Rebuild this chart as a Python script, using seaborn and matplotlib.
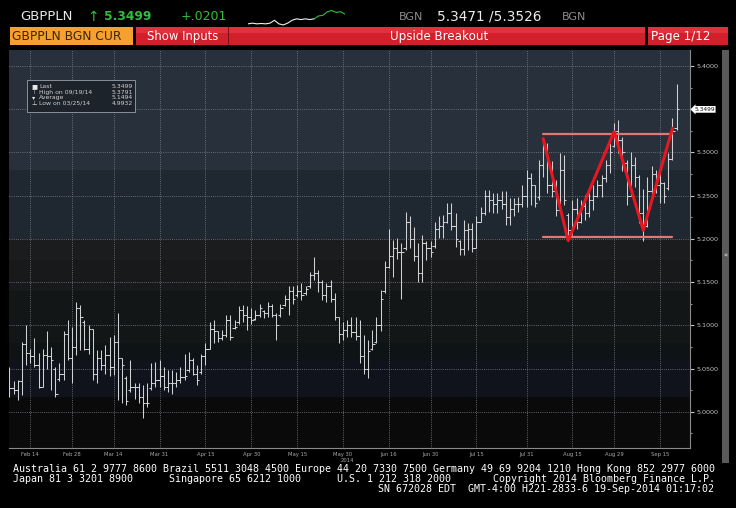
import numpy as np
import pandas as pd
import matplotlib
matplotlib.use("Agg")
import matplotlib.pyplot as plt
import matplotlib.transforms as mtransforms
from matplotlib.patches import Rectangle
import seaborn as sns

# ---------------- data ----------------
start_date = "2014-02-07"
end_date = "2014-09-19"

opens = [
    5.040, 5.027, 5.025, 5.035, 5.078, 5.068, 5.064, 5.054, 5.029, 5.066,
    5.064, 5.050, 5.038, 5.044, 5.090, 5.062, 5.075, 5.120, 5.104, 5.073,
    5.096, 5.044, 5.062, 5.054, 5.066, 5.052, 5.081, 5.062, 5.039, 5.025,
    5.029, 5.029, 5.017, 5.010, 5.027, 5.033, 5.037, 5.041, 5.029, 5.033,
    5.033, 5.037, 5.040, 5.048, 5.060, 5.044, 5.046, 5.064, 5.073, 5.096,
    5.093, 5.085, 5.089, 5.106, 5.097, 5.104, 5.118, 5.112, 5.110, 5.107,
    5.112, 5.116, 5.114, 5.122, 5.112, 5.112, 5.124, 5.130, 5.140, 5.135,
    5.140, 5.137, 5.145, 5.158, 5.160, 5.150, 5.135, 5.145, 5.130, 5.110,
    5.090, 5.095, 5.100, 5.092, 5.088, 5.065, 5.050, 5.073, 5.081, 5.100,
    5.140, 5.168, 5.180, 5.190, 5.185, 5.190, 5.220, 5.200, 5.180, 5.160,
    5.195, 5.190, 5.192, 5.212, 5.215, 5.220, 5.230, 5.215, 5.197, 5.188,
    5.210, 5.212, 5.190, 5.220, 5.230, 5.250, 5.245, 5.240, 5.245, 5.240,
    5.225, 5.235, 5.240, 5.240, 5.250, 5.270, 5.262, 5.248, 5.285, 5.305,
    5.262, 5.255, 5.233, 5.280, 5.228, 5.210, 5.235, 5.220, 5.238, 5.230,
    5.245, 5.250, 5.262, 5.270, 5.285, 5.308, 5.325, 5.314, 5.288, 5.250,
    5.285, 5.272, 5.230, 5.215, 5.255, 5.275, 5.262, 5.265, 5.259, 5.292, 5.328,
]
highs = [
    5.052, 5.035, 5.037, 5.081, 5.100, 5.073, 5.085, 5.068, 5.073, 5.093,
    5.075, 5.052, 5.056, 5.093, 5.106, 5.098, 5.127, 5.123, 5.106, 5.100,
    5.096, 5.071, 5.071, 5.077, 5.087, 5.089, 5.114, 5.062, 5.041, 5.060,
    5.033, 5.033, 5.031, 5.033, 5.056, 5.058, 5.060, 5.052, 5.048, 5.048,
    5.046, 5.052, 5.067, 5.069, 5.062, 5.054, 5.067, 5.079, 5.104, 5.106,
    5.093, 5.095, 5.112, 5.112, 5.106, 5.122, 5.123, 5.122, 5.120, 5.118,
    5.125, 5.118, 5.127, 5.125, 5.114, 5.125, 5.135, 5.145, 5.145, 5.147,
    5.149, 5.145, 5.162, 5.179, 5.164, 5.152, 5.149, 5.152, 5.137, 5.110,
    5.104, 5.106, 5.110, 5.110, 5.106, 5.089, 5.083, 5.095, 5.110, 5.141,
    5.174, 5.212, 5.199, 5.201, 5.195, 5.231, 5.226, 5.214, 5.195, 5.204,
    5.197, 5.197, 5.220, 5.226, 5.228, 5.241, 5.241, 5.230, 5.199, 5.222,
    5.218, 5.218, 5.226, 5.237, 5.257, 5.257, 5.253, 5.253, 5.255, 5.255,
    5.247, 5.247, 5.249, 5.262, 5.280, 5.276, 5.262, 5.291, 5.316, 5.311,
    5.290, 5.268, 5.299, 5.297, 5.230, 5.245, 5.247, 5.245, 5.251, 5.257,
    5.262, 5.268, 5.274, 5.291, 5.311, 5.334, 5.338, 5.318, 5.291, 5.300,
    5.295, 5.274, 5.258, 5.272, 5.284, 5.280, 5.280, 5.266, 5.299, 5.340, 5.3791,
]
lows = [
    5.017, 5.021, 5.014, 5.019, 5.054, 5.056, 5.052, 5.027, 5.029, 5.050,
    5.025, 5.017, 5.035, 5.037, 5.060, 5.033, 5.066, 5.071, 5.071, 5.067,
    5.037, 5.033, 5.048, 5.044, 5.041, 5.042, 5.013, 5.010, 5.008, 5.023,
    5.015, 5.010, 4.9932, 5.006, 5.025, 5.029, 5.029, 5.025, 5.023, 5.021,
    5.029, 5.033, 5.037, 5.046, 5.042, 5.031, 5.044, 5.054, 5.073, 5.079,
    5.081, 5.083, 5.087, 5.083, 5.096, 5.102, 5.104, 5.095, 5.102, 5.106,
    5.110, 5.108, 5.110, 5.110, 5.083, 5.110, 5.122, 5.112, 5.125, 5.133,
    5.129, 5.135, 5.143, 5.152, 5.139, 5.129, 5.127, 5.127, 5.106, 5.079,
    5.083, 5.087, 5.087, 5.083, 5.056, 5.044, 5.039, 5.071, 5.079, 5.093,
    5.137, 5.166, 5.156, 5.177, 5.131, 5.187, 5.189, 5.174, 5.150, 5.150,
    5.176, 5.179, 5.189, 5.201, 5.201, 5.218, 5.210, 5.191, 5.181, 5.181,
    5.187, 5.185, 5.189, 5.220, 5.228, 5.231, 5.230, 5.230, 5.235, 5.216,
    5.216, 5.226, 5.231, 5.237, 5.237, 5.239, 5.237, 5.245, 5.272, 5.253,
    5.249, 5.226, 5.233, 5.239, 5.197, 5.205, 5.212, 5.218, 5.222, 5.225,
    5.233, 5.249, 5.249, 5.266, 5.276, 5.306, 5.299, 5.278, 5.239, 5.250,
    5.260, 5.218, 5.197, 5.214, 5.245, 5.253, 5.241, 5.241, 5.257, 5.291, 5.326,
]
closes = [
    5.027, 5.025, 5.035, 5.078, 5.068, 5.064, 5.054, 5.029, 5.066, 5.064,
    5.060, 5.021, 5.044, 5.090, 5.062, 5.075, 5.120, 5.110, 5.073, 5.096,
    5.044, 5.062, 5.054, 5.066, 5.052, 5.081, 5.062, 5.054, 5.012, 5.029,
    5.029, 5.017, 5.010, 5.010, 5.033, 5.037, 5.041, 5.029, 5.033, 5.033,
    5.037, 5.040, 5.041, 5.060, 5.044, 5.037, 5.064, 5.073, 5.096, 5.093,
    5.085, 5.089, 5.106, 5.087, 5.098, 5.118, 5.112, 5.110, 5.106, 5.112,
    5.120, 5.114, 5.122, 5.112, 5.100, 5.120, 5.130, 5.140, 5.130, 5.140,
    5.135, 5.142, 5.158, 5.160, 5.150, 5.135, 5.145, 5.130, 5.110, 5.090,
    5.095, 5.100, 5.092, 5.088, 5.065, 5.050, 5.070, 5.078, 5.100, 5.130,
    5.168, 5.180, 5.190, 5.185, 5.185, 5.220, 5.200, 5.180, 5.160, 5.195,
    5.190, 5.185, 5.212, 5.215, 5.220, 5.230, 5.215, 5.200, 5.188, 5.210,
    5.212, 5.190, 5.220, 5.230, 5.250, 5.245, 5.240, 5.245, 5.240, 5.225,
    5.235, 5.240, 5.240, 5.250, 5.270, 5.262, 5.241, 5.285, 5.305, 5.262,
    5.255, 5.233, 5.280, 5.245, 5.210, 5.235, 5.220, 5.238, 5.230, 5.245,
    5.250, 5.262, 5.270, 5.285, 5.300, 5.325, 5.314, 5.300, 5.250, 5.285,
    5.272, 5.230, 5.215, 5.255, 5.275, 5.262, 5.265, 5.250, 5.292, 5.325, 5.3499,
]

pattern_dates = ["2014-08-06", "2014-08-14", "2014-08-29", "2014-09-09", "2014-09-18"]
pattern_values = [5.316, 5.198, 5.324, 5.210, 5.328]
level_dates = ["2014-08-06", "2014-09-18"]
resistance_level = 5.321
support_level = 5.202

tick_dates = ["2014-02-14", "2014-02-28", "2014-03-14", "2014-03-31", "2014-04-15",
              "2014-04-30", "2014-05-15", "2014-05-30", "2014-06-16", "2014-06-30",
              "2014-07-15", "2014-07-31", "2014-08-15", "2014-08-29", "2014-09-15"]
tick_labels = ["Feb 14", "Feb 28", "Mar 14", "Mar 31", "Apr 15", "Apr 30", "May 15",
               "May 30", "Jun 16", "Jun 30", "Jul 15", "Jul 31", "Aug 15", "Aug 29", "Sep 15"]
y_ticks = [5.00, 5.05, 5.10, 5.15, 5.20, 5.25, 5.30, 5.35, 5.40]
y_tick_labels = ["5.0000", "5.0500", "5.1000", "5.1500", "5.2000", "5.2500", "5.3000", "", "5.4000"]
y_minor_ticks = [4.975, 5.025, 5.075, 5.125, 5.175, 5.225, 5.275, 5.325, 5.375]

spark_values = [8, 10, 8, 9, 8, 10, 18, 8, 5, 10, 18, 22, 20, 22, 20, 22,
                30, 32, 42, 45, 40, 42, 35]
spark_split = 15

legend_labels = ["Last", "High on 09/19/14", "Average", "Low on 03/25/14"]
legend_values = ["5.3499", "5.3791", "5.1494", "4.9932"]

# ---------------- setup ----------------
sns.set_style("dark")
plt.rcParams['font.family'] = ['DejaVu Sans']

W, H = 736, 508
fig = plt.figure(figsize=(W / 100, H / 100), dpi=100, facecolor='black')


def fbox(x0, y0, x1, y1):
    return [x0 / W, 1 - y1 / H, (x1 - x0) / W, (y1 - y0) / H]


def ftext(x, y, s, **kw):
    kw.setdefault('va', 'center')
    return fig.text(x / W, 1 - y / H, s, **kw)


def frect(x0, y0, x1, y1, **kw):
    r = Rectangle((x0 / W, 1 - y1 / H), (x1 - x0) / W, (y1 - y0) / H,
                  transform=fig.transFigure, **kw)
    fig.add_artist(r)
    return r


dates = pd.bdate_range(start_date, end_date)
pos = np.arange(len(dates))
o = np.array(opens)
h = np.array(highs)
l = np.array(lows)
c = np.array(closes)

pattern_pos = dates.get_indexer(pd.to_datetime(pattern_dates))
level_pos = dates.get_indexer(pd.to_datetime(level_dates))
tick_pos = dates.get_indexer(pd.to_datetime(tick_dates))

# ---------------- main axes ----------------
ax = fig.add_axes(fbox(9, 50, 690, 448))
ax.set_facecolor('#0a0a0b')
ax.set_xlim(-0.1, 163.2)
ax.set_ylim(4.958, 5.4186)

bands = [(4.90, 5.017, '#0a0a0b'), (5.017, 5.060, '#10121c'), (5.060, 5.080, '#0e1416'),
         (5.080, 5.140, '#121617'), (5.140, 5.175, '#18191a'), (5.175, 5.200, '#1b1c1d'),
         (5.200, 5.280, '#1f2730'), (5.280, 5.500, '#28313b')]
for lo, hi, col in bands:
    ax.axhspan(lo, hi, color=col, lw=0, zorder=0)

grid_kw = dict(color='#7d838b', lw=0.6, ls=(0, (1, 1.6)), zorder=1)
for yv in y_ticks:
    ax.axhline(yv, **grid_kw)
for xv in tick_pos:
    ax.axvline(xv, **grid_kw)

# OHLC bars
bar_col = '#cfd1d4'
ax.vlines(pos, l, h, color=bar_col, lw=0.75, zorder=3)
ax.hlines(o, pos - 0.55, pos, color=bar_col, lw=0.75, zorder=3)
ax.hlines(c, pos, pos + 0.55, color=bar_col, lw=0.75, zorder=3)

# Breakout pattern
sns.lineplot(x=list(level_pos), y=[resistance_level, resistance_level], ax=ax,
             color='#e07878', lw=1.6, zorder=4, legend=False)
sns.lineplot(x=list(level_pos), y=[support_level, support_level], ax=ax,
             color='#e07878', lw=1.6, zorder=4, legend=False)
sns.lineplot(x=list(pattern_pos), y=pattern_values, ax=ax, sort=False,
             color='#e8161f', lw=2.2, zorder=5, legend=False)

# axes styling
for s in ['top', 'left']:
    ax.spines[s].set_visible(False)
ax.spines['bottom'].set_color('#8a8a8a')
ax.spines['right'].set_color('#8a8a8a')
ax.spines['bottom'].set_linewidth(0.8)
ax.spines['right'].set_linewidth(0.8)
ax.yaxis.tick_right()
ax.set_yticks(y_ticks)
ax.set_yticklabels(y_tick_labels)
ax.set_yticks(y_minor_ticks, minor=True)
ax.tick_params(axis='y', which='major', colors='#c4c4c4', labelsize=4.6,
               length=3, width=0.8, direction='out', pad=1.5, right=True, left=False)
ax.tick_params(axis='y', which='minor', colors='#9a9a9a', length=1.5, width=0.7,
               right=True, left=False)
ax.set_xticks(tick_pos)
ax.set_xticklabels(tick_labels)
ax.tick_params(axis='x', colors='#a8a8a8', labelsize=3.8, length=2, width=0.6,
               direction='out', pad=1.2)
ax.set_xlabel('')
ax.set_ylabel('')
ax.grid(False)

# last price flag
trans = mtransforms.blended_transform_factory(ax.transAxes, ax.transData)
ax.text(1.006, c[-1], "5.3499", transform=trans, fontsize=4.2, color='#111111',
        va='center', ha='left', clip_on=False, zorder=10,
        bbox=dict(boxstyle='larrow,pad=0.15', fc='white', ec='none'))

# year label under May 30
ftext(347, 460.5, "2014", fontsize=3.8, color='#a8a8a8', ha='center')

# ---------------- legend box ----------------
frect(27, 80, 135, 112, facecolor='#1d232b', edgecolor='#9aa1a9', lw=0.6, zorder=6)
legend_y = [86.8, 92.3, 97.8, 103.3]
icons = ["■", "⊤", "▾", "⊥"]
for yy, ic, lab, val in zip(legend_y, icons, legend_labels, legend_values):
    ftext(34, yy, ic, fontsize=4.6, color='#e8e8e8', ha='center', zorder=7)
    ftext(39, yy, lab, fontsize=4.4, color='#d0d0d0', ha='left', zorder=7)
    ftext(133, yy, val, fontsize=4.4, color='#d0d0d0', ha='right', zorder=7)

# ---------------- header ----------------
ftext(20, 17, "GBPPLN", fontsize=9.5, color='#e8e8e8', ha='left')
ftext(87, 17, "↑", fontsize=10, color='#2fbf3a', ha='left')
ftext(104, 17, "5.3499", fontsize=8.8, color='#2fbf3a', ha='left', fontweight='bold')
ftext(181, 17, "+.0201", fontsize=9, color='#2fbf3a', ha='left')
ftext(399, 17, "BGN", fontsize=8, color='#8c8c8c', ha='left')
ftext(437, 17, "5.3471 /5.3526", fontsize=9.8, color='#ececec', ha='left')
ftext(562, 17, "BGN", fontsize=8, color='#8c8c8c', ha='left')

# sparkline
sax = fig.add_axes(fbox(248, 9, 345, 26))
sax.set_axis_off()
sax.set_xlim(0, len(spark_values) - 1)
sax.set_ylim(2, 49.5)
sp_x = list(range(len(spark_values)))
sns.lineplot(x=sp_x[:spark_split + 1], y=spark_values[:spark_split + 1], ax=sax,
             color='#f0f0f0', lw=0.8, legend=False)
sns.lineplot(x=sp_x[spark_split:], y=spark_values[spark_split:], ax=sax,
             color='#2fbf3a', lw=0.8, legend=False)

# second row: tabs
frect(10, 27, 133, 45, facecolor='#f6a032', edgecolor='none')
ftext(12, 36.5, "GBPPLN BGN CUR", fontsize=8.8, color='#3a2606', ha='left')
frect(136, 27, 645, 45, facecolor='#d21f2b', edgecolor='none')
frect(136, 27, 645, 33, facecolor='#e0323c', edgecolor='none')
frect(228, 27, 229.2, 45, facecolor='#7e0f16', edgecolor='none')
ftext(147, 36.5, "Show Inputs", fontsize=8.4, color='white', ha='left')
ftext(439, 36.5, "Upside Breakout", fontsize=8.6, color='white', ha='center')
frect(648, 27, 728, 45, facecolor='#d21f2b', edgecolor='none')
frect(648, 27, 728, 33, facecolor='#e0323c', edgecolor='none')
ftext(651, 36.5, "Page 1/12", fontsize=8.6, color='white', ha='left')

# scrollbar on the right
frect(722, 50, 729, 463, facecolor='#5a5a5a', edgecolor='none')
ftext(725.5, 255, "«", fontsize=5, color='#f0f0f0', ha='center', rotation=0)

# ---------------- footer ----------------
mono = ['DejaVu Sans Mono']
line1 = "Australia 61 2 9777 8600 Brazil 5511 3048 4500 Europe 44 20 7330 7500 Germany 49 69 9204 1210 Hong Kong 852 2977 6000"
line2 = "Japan 81 3 3201 8900      Singapore 65 6212 1000      U.S. 1 212 318 2000       Copyright 2014 Bloomberg Finance L.P."
line3 = "SN 672028 EDT  GMT-4:00 H221-2833-6 19-Sep-2014 01:17:02"
ftext(13, 468.5, line1, fontsize=7.2, color='white', ha='left', family=mono)
ftext(13, 478.5, line2, fontsize=7.2, color='white', ha='left', family=mono)
ftext(714, 489, line3, fontsize=7.2, color='white', ha='right', family=mono)

fig.savefig("out.png", dpi=100, facecolor='black')
